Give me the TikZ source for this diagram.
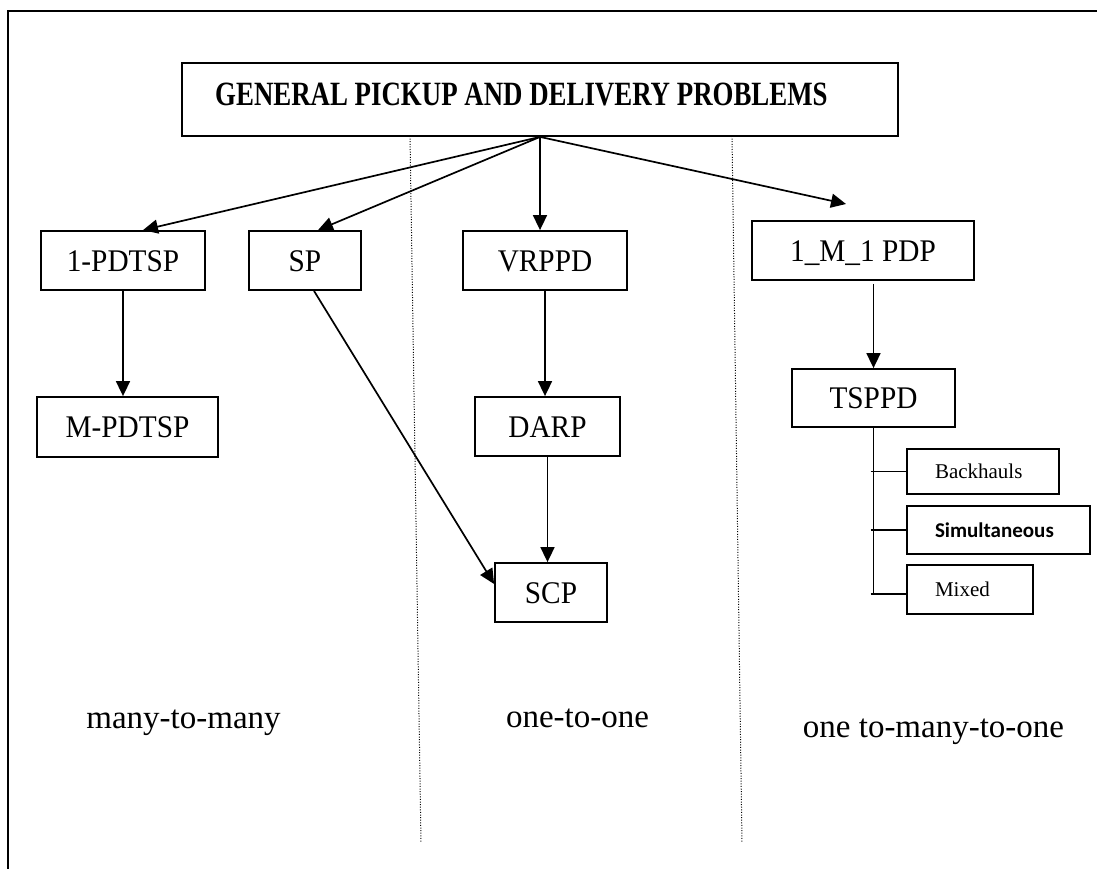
\documentclass[tikz,border=0pt]{standalone}
\usepackage{fontspec}
\setmainfont{Liberation Serif}
\newfontfamily\titlefont{Liberation Serif Bold}[FakeStretch=0.79]
\newfontfamily\boxfont{Liberation Serif}[FakeStretch=0.93]
\newfontfamily\simfont{Carlito Bold}
\usetikzlibrary{arrows.meta,calc}

\tikzset{
  frameline/.style={line width=2.6pt, line cap=rect},
  box/.style={draw, line width=1.8pt, rectangle, inner sep=0pt,
    font=\boxfont\fontsize{31.5}{36}\selectfont, text height=21pt, text depth=0pt},
  smallbox/.style={draw, line width=1.6pt, rectangle, inner xsep=28pt, inner ysep=0pt,
    align=left, font=\fontsize{21}{24}\selectfont, text height=14pt, text depth=0pt},
  arr/.style={line width=1.7pt, -{Triangle[length=15pt,width=14pt]}},
  branch/.style={line width=1.7pt},
  divider/.style={line width=1pt, dash pattern=on 1pt off 1.6pt},
  kind/.style={anchor=base, font=\fontsize{33}{38}\selectfont},
}

\begin{document}
\begin{tikzpicture}[x=1pt, y=-1pt]
\useasboundingbox (0,0) rectangle (1097,869);

% open frame: top and left edges only
\coordinate (fl) at (8,869);
\coordinate (ftl) at (8,11);
\coordinate (fr) at (1097,11);
\draw[frameline] (fl) -- (ftl) -- (fr);

% root
\node[box, minimum width=716pt, minimum height=73pt] (gp) at (540,99.5) {};
\node[anchor=base west, inner sep=0pt, font=\titlefont\fontsize{34}{38}\selectfont] (gptext) at (215,106)
  {GENERAL PICKUP AND DELIVERY PROBLEMS};

% column dividers
\coordinate (d1a) at (410,136);
\coordinate (d1b) at (421,843);
\coordinate (d2a) at (732,136);
\coordinate (d2b) at (742,843);
\draw[divider] (d1a) -- (d1b);
\draw[divider] (d2a) -- (d2b);

% problem boxes
\node[box, minimum width=164pt, minimum height=59pt] (p1)   at (123,260.5)   {1-PDTSP};
\node[box, minimum width=181pt, minimum height=60pt] (mp)   at (127.5,427)   {M-PDTSP};
\node[box, minimum width=112pt, minimum height=59pt] (sp)   at (305,260.5)   {SP};
\node[box, minimum width=164pt, minimum height=59pt] (vr)   at (545,260.5)   {VRPPD};
\node[box, minimum width=145pt, minimum height=59pt] (darp) at (547.5,426.5) {DARP};
\node[box, minimum width=112pt, minimum height=59pt] (scp)  at (551,592.5)   {SCP};
\node[box, minimum width=222pt, minimum height=59pt] (m1)   at (863,250.5)   {1\_M\_1 PDP};
\node[box, minimum width=163pt, minimum height=58pt] (ts)   at (873.5,398)   {TSPPD};

% TSPPD variants
\node[smallbox, text width=96pt, minimum height=45pt] (bh) at (983,471.5) {Backhauls};
\node[smallbox, line width=2.4pt, text width=127pt, minimum height=48pt,
      font=\simfont\fontsize{21}{24}\selectfont] (sim) at (998.5,530) {Simultaneous};
\node[smallbox, text width=70pt, minimum height=49pt] (mx) at (970,589.5) {Mixed};

% arrows from the root
\coordinate (m1tip) at (846,204);
\draw[arr] (gp.south) -- ($(p1.north)+(20,0)$);
\draw[arr] (gp.south) -- ($(sp.north)+(13,0)$);
\draw[arr] (gp.south) -- (gp.south |- vr.north);
\draw[arr] (gp.south) -- (m1tip);

% arrows between problems
\draw[arr] (p1.south) -- (p1.south |- mp.north);
\draw[arr] ($(sp.south)+(9,0)$) -- ($(scp.west)+(0,-8.5)$);
\draw[arr] (vr.south) -- (vr.south |- darp.north);
\draw[arr] (darp.south) -- (darp.south |- scp.north);
\draw[arr] ($(ts.north |- m1.south)+(0,3)$) -- (ts.north);

% TSPPD branch lines
\coordinate (mxtick) at ($(mx.west)+(0,4.5)$);
\draw[branch] (ts.south) -- (ts.south |- mxtick);
\draw[branch] ($(ts.south |- bh.west)+(-3,0)$) -- (bh.west);
\draw[branch] ($(ts.south |- sim.west)+(-3,0)$) -- (sim.west);
\draw[branch] ($(ts.south |- mxtick)+(-3,0)$) -- (mxtick);

% column labels
\node[kind] (k1) at (183.5,728) {many-to-many};
\node[kind] (k2) at (577.5,727) {one-to-one};
\node[kind] (k3) at (933.5,737) {one to-many-to-one};
\end{tikzpicture}
\end{document}
